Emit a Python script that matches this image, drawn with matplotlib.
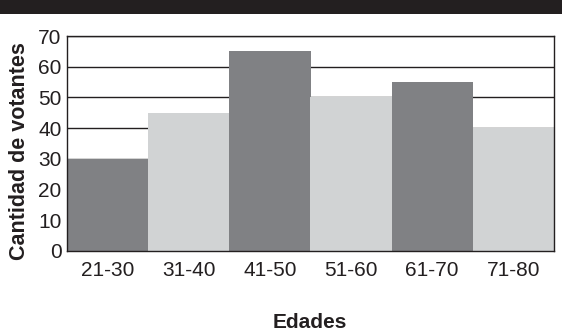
import matplotlib.pyplot as plt
from matplotlib.patches import Rectangle

edades = ["21-30", "31-40", "41-50", "51-60", "61-70", "71-80"]
votantes = [30, 45, 65, 50, 55, 40]
colores = ["#808184", "#d1d3d4", "#808184", "#d1d3d4", "#808184", "#d1d3d4"]

plt.rcParams['font.family'] = ['Liberation Sans', 'DejaVu Sans']

fig = plt.figure(figsize=(5.62, 3.35), dpi=100)
ax = fig.add_axes([67 / 562, 1 - 251 / 335, 487 / 562, 215 / 335])

# black banner on top
fig.patches.append(Rectangle((0, 1 - 14 / 335), 1, 14 / 335, transform=fig.transFigure,
                             facecolor="#231f20", edgecolor="none"))

x = range(len(edades))
ax.bar(x, votantes, width=1.0, color=colores, zorder=2)
ax.set_xlim(-0.5, len(edades) - 0.5)
ax.set_ylim(0, 70)
ax.set_yticks(range(0, 71, 10))
ax.set_xticks(list(x))
ax.set_xticklabels(edades)
ax.yaxis.grid(True, color="#231f20", linewidth=1.0, zorder=1)
ax.set_axisbelow(True)
ax.tick_params(length=0, labelsize=15, colors="#231f20", pad=7)
ax.tick_params(axis="y", pad=4)
for s in ax.spines.values():
    s.set_color("#231f20")
    s.set_linewidth(1.0)
    s.set_zorder(3)

fig.text(20 / 562, 1 - 151 / 335, "Cantidad de votantes", rotation=90, ha="center", va="center",
         fontsize=15.5, fontweight="bold", color="#231f20")
fig.text(310 / 562, 1 - 322 / 335, "Edades", ha="center", va="center",
         fontsize=15, fontweight="bold", color="#231f20")

fig.savefig("out.png", dpi=100)
